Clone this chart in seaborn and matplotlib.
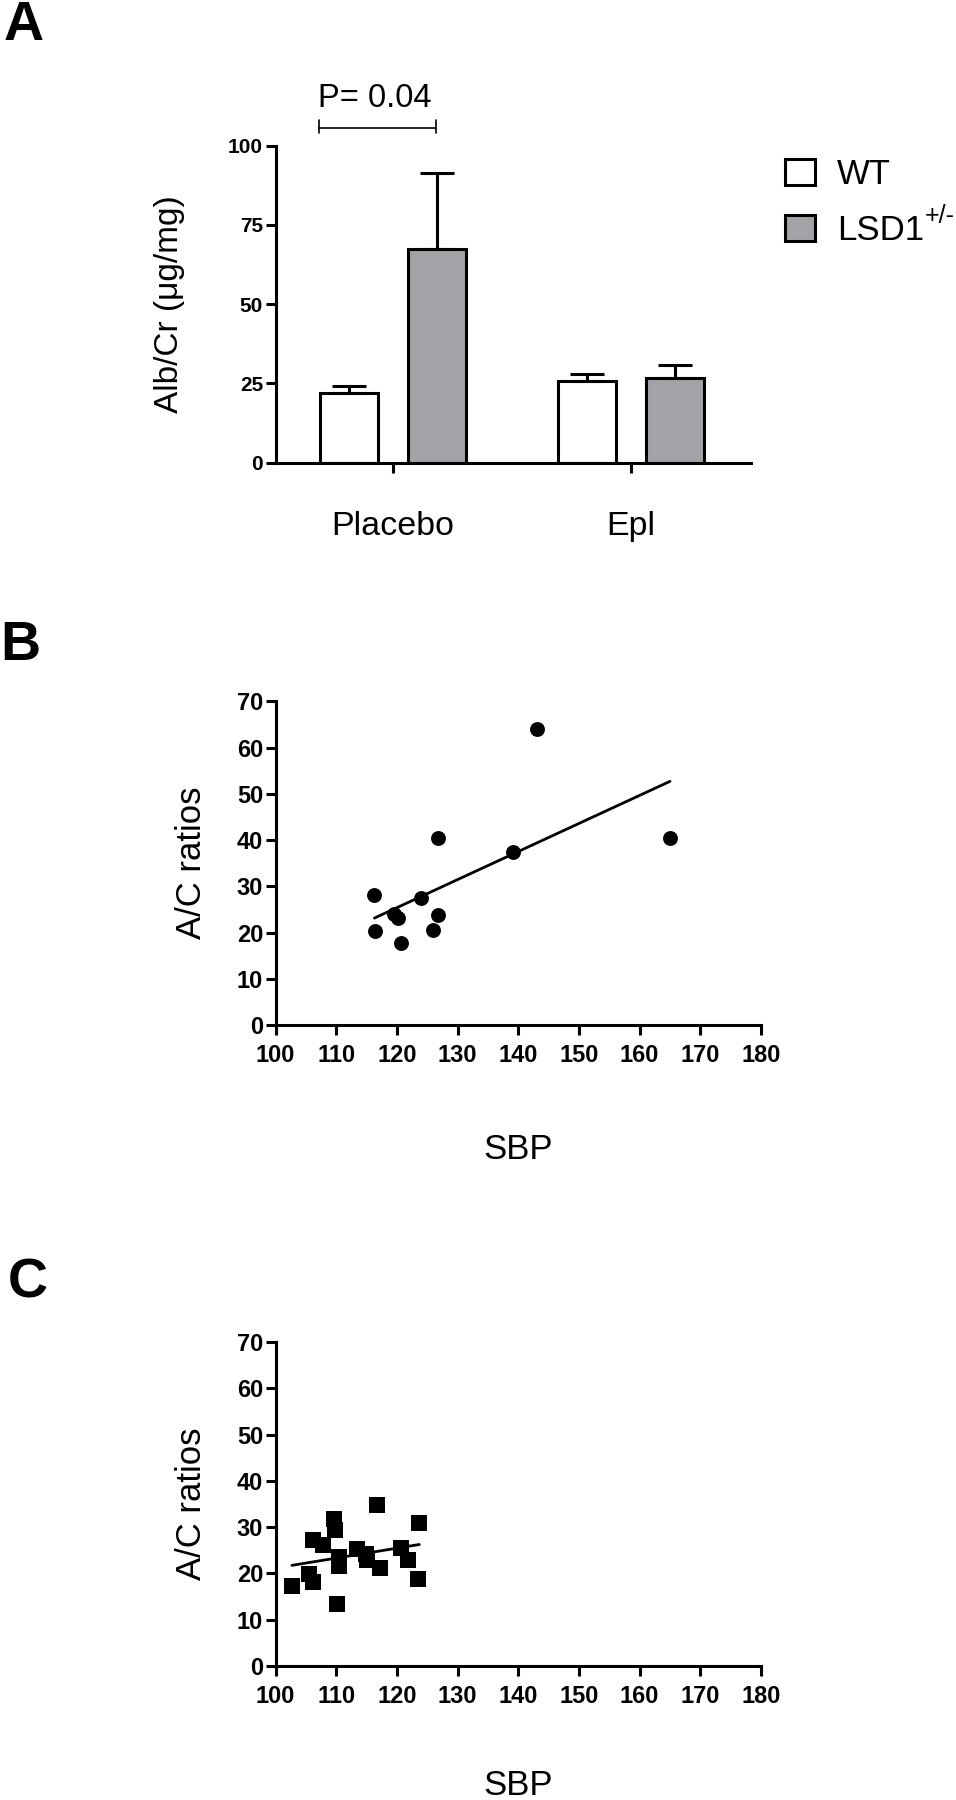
import numpy as np
import pandas as pd
import matplotlib.pyplot as plt
from matplotlib.patches import Patch
import seaborn as sns

# A: albumin / creatinine by treatment and genotype (mean, SEM)
treatments = ["Placebo", "Epl"]
genotypes = ["WT", "LSD1"]
wt_mean = [21.8, 25.8]
wt_sem = [2.2, 2.1]
lsd1_mean = [67.4, 26.6]
lsd1_sem = [23.9, 4.1]

# B: A/C ratio vs SBP (circles)
sbp_b = [143.1, 126.7, 165.0, 139.1, 116.3, 124.0, 119.5, 120.2, 126.7, 116.4, 126.0, 120.7]
ac_b = [64.1, 40.4, 40.5, 37.5, 28.2, 27.4, 24.0, 23.1, 23.7, 20.3, 20.6, 17.7]

# C: A/C ratio vs SBP (squares)
sbp_c = [102.7, 105.6, 106.1, 106.1, 107.9, 109.7, 109.8, 110.5, 110.5, 110.1,
         113.4, 114.9, 115.0, 116.8, 117.2, 120.6, 121.9, 123.7, 123.4]
ac_c = [17.3, 19.9, 18.1, 27.2, 26.1, 31.7, 29.4, 23.5, 21.6, 13.3,
        25.3, 24.3, 22.9, 34.7, 21.1, 25.6, 23.0, 31.0, 18.9]

GRAY = "#a3a3a7"
LW = 2.2

sns.set_theme(style="ticks")
plt.rcParams['font.family'] = ['Liberation Sans', 'DejaVu Sans']
plt.rcParams['axes.linewidth'] = LW
for key in ("text.color", "axes.labelcolor", "xtick.color", "ytick.color", "axes.edgecolor"):
    plt.rcParams[key] = "black"

fig = plt.figure(figsize=(9.56, 18), dpi=100)
W, H = 956.0, 1800.0

# ---------------- panel A ----------------
axA = fig.add_axes([275.6 / W, 1 - 462.5 / H, (751 - 275.6) / W, (462.5 - 145.8) / H])
df = pd.DataFrame({
    "treatment": treatments * 2,
    "genotype": [genotypes[0]] * 2 + [genotypes[1]] * 2,
    "value": wt_mean + lsd1_mean,
})
sns.barplot(data=df, x="treatment", y="value", hue="genotype", order=treatments,
            hue_order=genotypes, palette=["white", GRAY], saturation=1,
            edgecolor="black", linewidth=LW, width=0.74, gap=0.35,
            errorbar=None, legend=False, ax=axA)
for cont, means, sems in zip(axA.containers, [wt_mean, lsd1_mean], [wt_sem, lsd1_sem]):
    xs = [p.get_x() + p.get_width() / 2 for p in cont]
    axA.errorbar(xs, means, yerr=[np.zeros(len(sems)), sems], fmt="none",
                 ecolor="black", elinewidth=LW, capsize=12, capthick=LW, zorder=1)

axA.set_ylim(0, 100)
axA.set_xlim(-0.493, 1.504)
axA.set_yticks([0, 25, 50, 75, 100])
axA.set_xlabel("")
axA.set_ylabel("Alb/Cr (μg/mg)", fontsize=24)
axA.yaxis.set_label_coords(-0.19, 0.5)
axA.tick_params(axis="both", width=LW, length=7, color="black")
axA.tick_params(axis="y", labelsize=15, pad=2)
axA.tick_params(axis="x", labelsize=24.5, pad=28)
plt.setp(axA.get_yticklabels(), fontweight="bold")
sns.despine(ax=axA)

# significance bracket
xb0, xb1, yb = -0.311, 0.181, 105.5
axA.plot([xb0, xb1], [yb, yb], color="black", lw=1.2, clip_on=False)
for xb in (xb0, xb1):
    axA.plot([xb, xb], [yb - 1.5, yb + 2.5], color="black", lw=1.2, clip_on=False)
axA.text(-0.076, 112.3, "P= 0.04", fontsize=23.5, ha="center", va="baseline")

leg = axA.legend(handles=[Patch(facecolor="white", edgecolor="black", lw=LW, label="WT"),
                          Patch(facecolor=GRAY, edgecolor="black", lw=LW, label="LSD1")],
                 loc="upper left", bbox_to_anchor=(785 / W, 1 - 158 / H),
                 bbox_transform=fig.transFigure, frameon=False, fontsize=25,
                 handlelength=0.87, handleheight=0.8, handletextpad=0.62,
                 labelspacing=0.66, borderpad=0, borderaxespad=0)


# ---------------- panels B and C ----------------
def scatter_panel(ax, x, y, marker, size, xlab_y):
    sns.regplot(x=x, y=y, ax=ax, ci=None, color="black", marker=marker,
                scatter_kws={"s": size, "linewidths": 0, "alpha": 1},
                line_kws={"linewidth": 2.0})
    ax.set_xlim(100, 180)
    ax.set_ylim(0, 70)
    ax.set_xticks(range(100, 181, 10))
    ax.set_yticks(range(0, 71, 10))
    ax.tick_params(axis="both", width=LW, length=7, color="black", labelsize=17)
    ax.tick_params(axis="x", pad=7)
    ax.tick_params(axis="y", pad=2)
    plt.setp(ax.get_xticklabels(), fontweight="bold")
    plt.setp(ax.get_yticklabels(), fontweight="bold")
    ax.set_xlabel("SBP", fontsize=25)
    ax.set_ylabel("A/C ratios", fontsize=25)
    ax.xaxis.set_label_coords(0.5, xlab_y)
    ax.yaxis.set_label_coords(-0.139, 0.5)
    sns.despine(ax=ax)


axB = fig.add_axes([275.5 / W, 1 - 1025 / H, (761 - 275.5) / W, (1025 - 701.4) / H])
scatter_panel(axB, sbp_b, ac_b, "o", 115, -0.335)

axC = fig.add_axes([275.5 / W, 1 - 1666 / H, (761 - 275.5) / W, (1666 - 1342) / H])
scatter_panel(axC, sbp_c, ac_c, "s", 135, -0.318)

# panel letters
fig.text(4 / W, 1.0, "A", fontsize=40, fontweight="bold", ha="left", va="top")
fig.text(0.0, 1 - 620 / H, "B", fontsize=40, fontweight="bold", ha="left", va="top")
fig.text(8 / W, 1 - 1258 / H, "C", fontsize=40, fontweight="bold", ha="left", va="top")

# superscript on the LSD1 legend entry
fig.canvas.draw()
bb = leg.get_texts()[1].get_window_extent()
fig.text((bb.x1 + 1) / W, (bb.y1 - 2) / H, "+/-", fontsize=18, ha="left", va="center")

fig.savefig("out.png", dpi=100, facecolor="white")
